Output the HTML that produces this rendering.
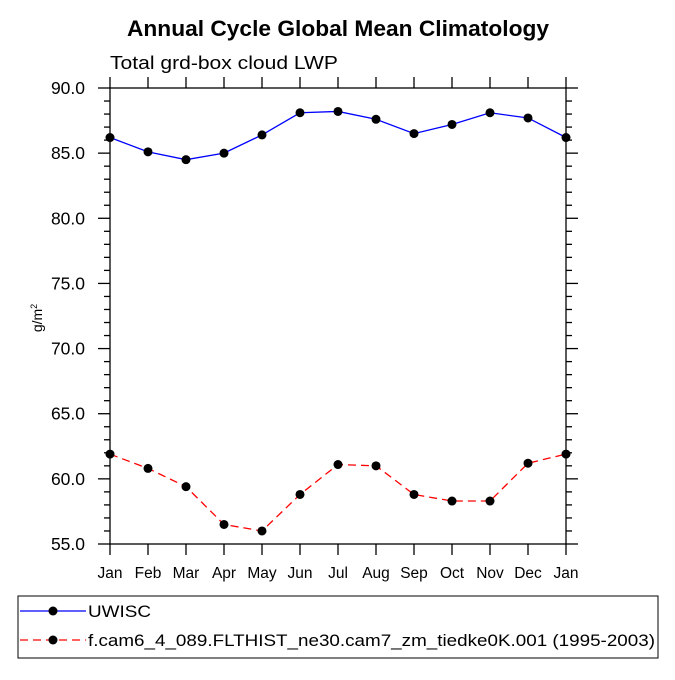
<!DOCTYPE html>
<html><head><meta charset="utf-8"><style>
body{margin:0;background:#fff;}
svg{font-family:"Liberation Sans",Helvetica,Arial,sans-serif;}
</style></head><body>
<svg id="chart" width="675" height="675" xmlns="http://www.w3.org/2000/svg">
<text x="127" y="36" font-size="22" font-weight="bold" textLength="422" lengthAdjust="spacingAndGlyphs">Annual Cycle Global Mean Climatology</text>
<text x="110" y="69" font-size="18" textLength="228" lengthAdjust="spacingAndGlyphs">Total grd-box cloud LWP</text>
<text transform="translate(42,318) rotate(-90)" text-anchor="middle" font-size="14">g/m<tspan dy="-5" font-size="9">2</tspan></text>
<g id="axes"></g>
<g id="series"></g>
<rect x="18" y="596" width="640" height="62" fill="none" stroke="#000" stroke-width="1"/>
<g>
<line x1="20" y1="611" x2="86" y2="611" stroke="#0000ff" stroke-width="1.3"/>
<circle cx="53" cy="611" r="4.5" fill="#000"/>
<text x="88" y="617" font-size="17" textLength="63" lengthAdjust="spacingAndGlyphs">UWISC</text>
</g>
<g>
<line x1="20" y1="640" x2="86" y2="640" stroke="#ff0000" stroke-width="1.3" stroke-dasharray="8,5"/>
<circle cx="53" cy="640" r="4.5" fill="#000"/>
<text x="88" y="646" font-size="17" textLength="567" lengthAdjust="spacingAndGlyphs">f.cam6_4_089.FLTHIST_ne30.cam7_zm_tiedke0K.001 (1995-2003)</text>
</g>
</svg>
<script>
const months=["Jan","Feb","Mar","Apr","May","Jun","Jul","Aug","Sep","Oct","Nov","Dec","Jan"];
const uwisc=[86.2,85.1,84.5,85.0,86.4,88.1,88.2,87.6,86.5,87.2,88.1,87.7,86.2];
const cam=[61.9,60.8,59.4,56.5,56.0,58.8,61.1,61.0,58.8,58.3,58.3,61.2,61.9];
const yTicks=["55.0","60.0","65.0","70.0","75.0","80.0","85.0","90.0"];
const L=110,R=566,T=88,B=544,ymin=55,ymax=90;
const NS="http://www.w3.org/2000/svg";
const xs=i=>L+(R-L)*i/(months.length-1);
const ys=v=>B-(B-T)*(v-ymin)/(ymax-ymin);
function mk(t,a,p){const e=document.createElementNS(NS,t);for(const k in a)e.setAttribute(k,a[k]);p.appendChild(e);return e;}
const ax=document.getElementById('axes'),sg=document.getElementById('series');
const frame=mk('rect',{x:L,y:T,width:R-L,height:B-T,fill:'none',stroke:'#000','stroke-width':1.3},ax);


months.forEach((m,i)=>{const x=xs(i);
mk('line',{x1:x,y1:B,x2:x,y2:B+11,stroke:'#000','stroke-width':1.3},ax);
mk('line',{x1:x,y1:T,x2:x,y2:T-11,stroke:'#000','stroke-width':1.3},ax);
const t=mk('text',{x:x,y:B+34,'text-anchor':'middle','font-size':15.5},ax);t.textContent=m;

});
for(let v=ymin;v<=ymax;v+=1){const y=ys(v);const major=(v-ymin)%5===0;
if(major){mk('line',{x1:L,y1:y,x2:L-12,y2:y,stroke:'#000','stroke-width':1.3},ax);mk('line',{x1:R,y1:y,x2:R+12,y2:y,stroke:'#000','stroke-width':1.3},ax);}
else{mk('line',{x1:L,y1:y,x2:L-6,y2:y,stroke:'#000','stroke-width':1.3},ax);mk('line',{x1:R,y1:y,x2:R+6,y2:y,stroke:'#000','stroke-width':1.3},ax);}}
yTicks.forEach(s=>{const v=parseFloat(s);const t=mk('text',{x:L-25,y:ys(v)+6,'text-anchor':'end','font-size':17.5},ax);t.textContent=s;

});
function series(d,col,dash,name){
const p=mk('polyline',{points:d.map((v,i)=>xs(i)+','+ys(v)).join(' '),fill:'none',stroke:col,'stroke-width':1.3,'stroke-dasharray':dash},sg);


d.forEach((v,i)=>{const c=mk('circle',{cx:xs(i),cy:ys(v),r:4.5,fill:'#000'},sg);

});}
series(uwisc,'#0000ff','none','uwisc');
series(cam,'#ff0000','8,5','cam6');
</script>
</body></html>
